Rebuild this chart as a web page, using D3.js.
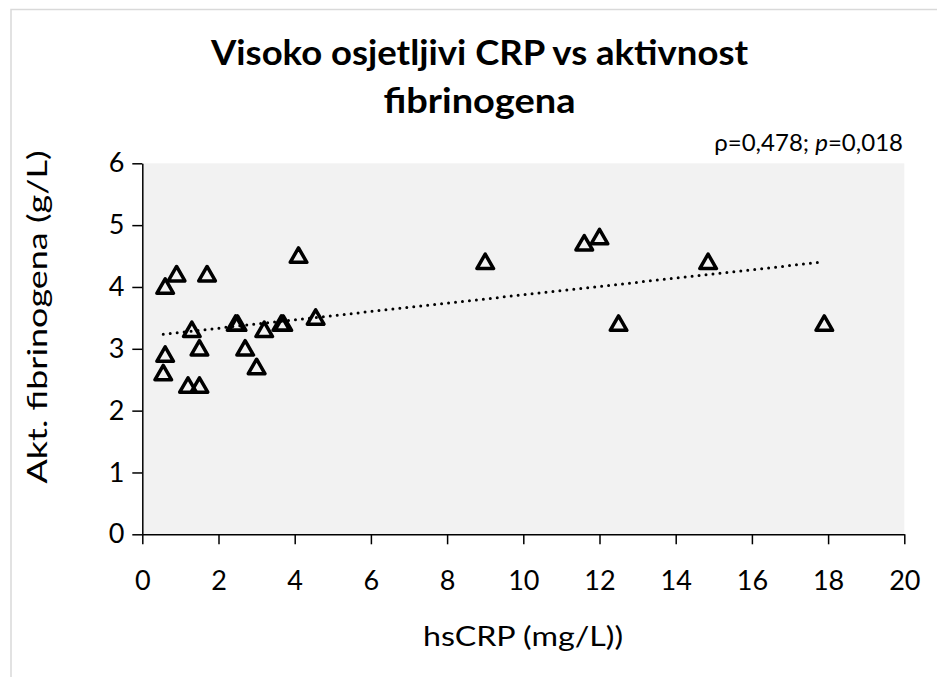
<!DOCTYPE html>
<html>
<head>
<meta charset="utf-8">
<script src="https://cdn.jsdelivr.net/npm/d3@7"></script>
<style>
  body { margin: 0; background: #fff; }
  svg { display: block; font-family: Lato, "Open Sans", sans-serif; }
</style>
</head>
<body>
<svg id="chart"></svg>
<script>
// values
const hsCRP = [0.6, 0.9, 1.7, 0.6, 0.55, 1.2, 1.5, 1.3, 1.5, 2.45, 2.5, 2.7, 3.0, 3.2, 3.65, 3.7, 4.55, 4.1, 9.0, 11.6, 12.0, 14.85, 12.5, 17.9];
const fibrinogen = [4.0, 4.2, 4.2, 2.9, 2.6, 2.4, 2.4, 3.3, 3.0, 3.4, 3.4, 3.0, 2.7, 3.3, 3.4, 3.4, 3.5, 4.5, 4.4, 4.7, 4.8, 4.4, 3.4, 3.4];
const xTicks = [0, 2, 4, 6, 8, 10, 12, 14, 16, 18, 20];
const yTicks = [0, 1, 2, 3, 4, 5, 6];
const titleLines = ["Visoko osjetljivi CRP vs aktivnost", "fibrinogena"];
const xTitle = "hsCRP (mg/L))";
const yTitle = "Akt. fibrinogena (g/L)";

const W = 937, H = 677;
const margin = { top: 163.3, bottom: H - 534.3, left: 142.3, right: W - 904.3 };
const width = W - margin.left - margin.right;
const height = H - margin.top - margin.bottom;

const svg = d3.select("#chart").attr("width", W).attr("height", H);

// chart area border
svg.append("path")
  .attr("d", `M11,${H}V9.5H${W}`)
  .attr("fill", "none")
  .attr("stroke", "#d9d9d9")
  .attr("stroke-width", 1.5);

const g = svg.append("g").attr("transform", `translate(${margin.left},${margin.top})`);

const xscale = d3.scaleLinear().domain([0, 20]).range([0, width]);
const yscale = d3.scaleLinear().domain([0, 6]).range([height, 0]);

// plot background
g.append("rect")
  .attr("width", width)
  .attr("height", height)
  .attr("fill", "#f2f2f2");

// axes
const xaxis = d3.axisBottom(xscale).tickValues(xTicks).tickFormat(d3.format("d"))
  .tickSize(10).tickSizeOuter(0).tickPadding(27);
const yaxis = d3.axisLeft(yscale).tickValues(yTicks).tickFormat(d3.format("d"))
  .tickSize(10).tickSizeOuter(0).tickPadding(8);

const g_xaxis = g.append("g").attr("transform", `translate(0,${height})`).call(xaxis);
const g_yaxis = g.append("g").call(yaxis);

[g_xaxis, g_yaxis].forEach((ax) => {
  ax.attr("font-family", null).attr("font-size", null);
  ax.select(".domain").attr("stroke", "#000").attr("stroke-width", 1.5);
  ax.selectAll(".tick line").attr("stroke", "#000").attr("stroke-width", 1.5);
  ax.selectAll(".tick text")
    .attr("fill", "#000")
    .style("font-size", "27px");
});

// trend line (least squares, like the spreadsheet trendline)
const n = hsCRP.length;
const mx = d3.mean(hsCRP), my = d3.mean(fibrinogen);
let sxy = 0, sxx = 0;
for (let i = 0; i < n; i++) {
  sxy += (hsCRP[i] - mx) * (fibrinogen[i] - my);
  sxx += (hsCRP[i] - mx) ** 2;
}
const slope = sxy / sxx;
const intercept = my - slope * mx;
const xExtent = d3.extent(hsCRP);

g.append("line")
  .attr("x1", xscale(xExtent[0]))
  .attr("y1", yscale(intercept + slope * xExtent[0]))
  .attr("x2", xscale(xExtent[1]))
  .attr("y2", yscale(intercept + slope * xExtent[1]))
  .attr("stroke", "#000")
  .attr("stroke-width", 3)
  .attr("stroke-linecap", "round")
  .attr("stroke-dasharray", "0 7");

// triangle markers
const tri = d3.symbol().type(d3.symbolTriangle).size(120);
g.selectAll("path.pt")
  .data(hsCRP.map((x, i) => ({ x: x, y: fibrinogen[i] })))
  .join("path")
  .attr("class", "pt")
  .attr("d", tri)
  .attr("transform", (d) => `translate(${xscale(d.x)},${yscale(d.y) + 1.5})`)
  .attr("fill", "none")
  .attr("stroke", "#000")
  .attr("stroke-width", 3.5)
  .attr("stroke-linejoin", "round");

// title, squeezed to the widths it has in the picture
const titleWidths = [537, 192];
svg.selectAll("text.title")
  .data(titleLines)
  .join("text")
  .attr("class", "title")
  .attr("x", 479.5)
  .attr("y", (d, i) => 65 + i * 48)
  .attr("text-anchor", "middle")
  .attr("font-weight", "bold")
  .attr("font-size", 34)
  .attr("textLength", (d, i) => titleWidths[i])
  .attr("lengthAdjust", "spacingAndGlyphs")
  .attr("fill", "#000")
  .text((d) => d);

// correlation note
const note = svg.append("text")
  .attr("x", 903)
  .attr("y", 151)
  .attr("text-anchor", "end")
  .attr("font-size", 24)
  .attr("fill", "#000");
note.append("tspan").text("ρ=0,478; ");
note.append("tspan").attr("font-style", "italic").text("p");
note.append("tspan").text("=0,018");

// axis titles
svg.append("text")
  .attr("x", 523)
  .attr("y", 646)
  .attr("text-anchor", "middle")
  .attr("font-size", 27)
  .attr("textLength", 200)
  .attr("lengthAdjust", "spacingAndGlyphs")
  .attr("fill", "#000")
  .text(xTitle);

svg.append("text")
  .attr("transform", "translate(47,317) rotate(-90)")
  .attr("text-anchor", "middle")
  .attr("font-size", 27)
  .attr("textLength", 333)
  .attr("lengthAdjust", "spacingAndGlyphs")
  .attr("fill", "#000")
  .text(yTitle);
</script>
</body>
</html>
